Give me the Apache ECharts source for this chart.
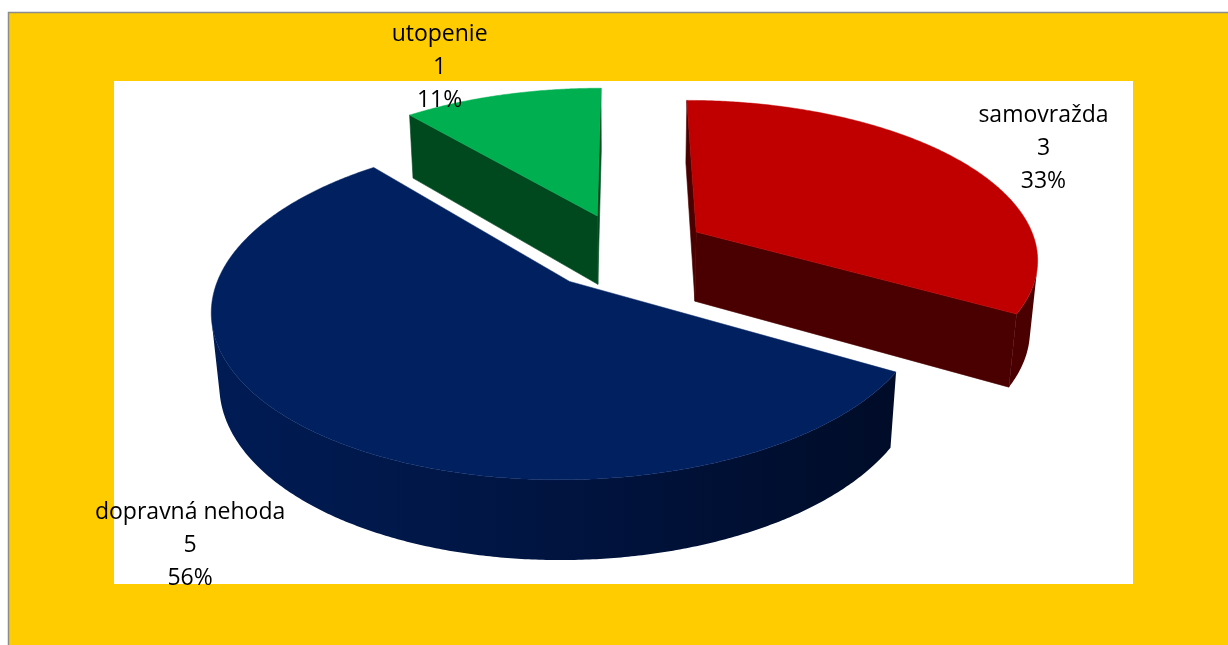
<!DOCTYPE html>
<html><head><meta charset="utf-8">
<script src="https://cdn.jsdelivr.net/npm/echarts@6/dist/echarts.min.js"></script>
<style>html,body{margin:0;padding:0;background:#fff;}#c{width:1228px;height:645px;}</style>
</head><body><div id="c"></div>
<script>
// ---- data ----
const categories = ['samovražda', 'dopravná nehoda', 'utopenie'];
const counts = [3, 5, 1];

// ---- styles / layout ----
const topColors = ['#C00000', '#002060', '#00B050'];
const sideColors = [
  ['#4B0000', '#4B0000', '#4B0000'],
  ['#001C55', '#001440', '#000C28'],
  ['#00491F', '#00491F', '#00491F']
];
const depthOrder = [1, 2, 0];           // painter order: green back, red, blue front
const labelOffsets = [[82, -13], [-114, 118], [-62, -28]];
const VIEW = { cx: 625, cy: 251, F: 1970, d: 5.76, alpha: 27.4 * Math.PI / 180, h: 0.235, explode: 0.245 };

const total = counts.reduce((a, b) => a + b, 0);

function renderItem(params, api) {
  const i = params.dataIndex;
  let before = 0;
  for (let k = 0; k < i; k++) before += counts[k];
  const v = api.value(0);
  const a0 = before / total * 2 * Math.PI, a1 = (before + v) / total * 2 * Math.PI;
  const am = (a0 + a1) / 2;
  const ox = VIEW.explode * Math.sin(am), oz = -VIEW.explode * Math.cos(am);
  const sa = Math.sin(VIEW.alpha), ca = Math.cos(VIEW.alpha);
  const camZ = VIEW.d * ca;
  const h = VIEW.h;
  function P(X, Z, Y) {
    const den = VIEW.d - Y * sa - Z * ca;
    return [VIEW.cx + VIEW.F * X / den, VIEW.cy + VIEW.F * (Z * sa - Y * ca) / den];
  }
  function rim(t, Y) { return P(ox + Math.sin(t), oz - Math.cos(t), Y); }
  function vis(nx, nz, X, Z) { return nx * (0 - X) + nz * (camZ - Z) > 0; }

  const base = depthOrder[i] * 10;
  const sc = sideColors[i];
  const children = [];
  const step = Math.PI / 360;
  const n = Math.max(2, Math.ceil((a1 - a0) / step) + 1);
  const ts = [];
  for (let k = 0; k < n; k++) ts.push(a0 + (a1 - a0) * k / (n - 1));

  // radial faces
  const faces = [[a0, a0 - Math.PI / 2], [a1, a1 + Math.PI / 2]];
  faces.forEach(([t, phi]) => {
    if (vis(Math.sin(phi), -Math.cos(phi), ox, oz)) {
      children.push({
        type: 'polygon', z2: base + 1,
        shape: { points: [P(ox, oz, 0), rim(t, 0), rim(t, -h), P(ox, oz, -h)] },
        style: { fill: sc[1], stroke: sc[1], lineWidth: 0.6 }
      });
    }
  });

  // outer wall (visible runs)
  let run = [];
  const runs = [];
  ts.forEach(t => {
    const X = ox + Math.sin(t), Z = oz - Math.cos(t);
    if (vis(Math.sin(t), -Math.cos(t), X, Z)) run.push(t);
    else { if (run.length > 1) runs.push(run); run = []; }
  });
  if (run.length > 1) runs.push(run);
  runs.forEach(r => {
    const pts = r.map(t => rim(t, 0)).concat(r.slice().reverse().map(t => rim(t, -h)));
    children.push({
      type: 'polygon', z2: base + 2,
      shape: { points: pts },
      style: {
        fill: { type: 'linear', x: 0, y: 0, x2: 1, y2: 0,
          colorStops: [{ offset: 0, color: sc[0] }, { offset: 0.5, color: sc[1] }, { offset: 1, color: sc[2] }] },
        stroke: null
      }
    });
  });

  // top face
  const topPts = [P(ox, oz, 0)].concat(ts.map(t => rim(t, 0)));
  children.push({
    type: 'polygon', z2: base + 5,
    shape: { points: topPts },
    style: { fill: topColors[i], stroke: topColors[i], lineWidth: 0.5 }
  });

  // label
  const anchor = rim(am, 0);
  const pct = Math.round(v / total * 100) + '%';
  children.push({
    type: 'text', z2: 100,
    style: {
      text: categories[i] + '\n' + v + '\n' + pct,
      x: anchor[0] + labelOffsets[i][0], y: anchor[1] + labelOffsets[i][1],
      align: 'center', verticalAlign: 'middle',
      fontFamily: 'Open Sans', fontSize: 23, lineHeight: 33, fill: '#000'
    }
  });
  return { type: 'group', children };
}

const chart = echarts.init(document.getElementById('c'), null, { renderer: 'canvas' });
chart.setOption({
  animation: false,
  backgroundColor: '#FFFFFF',
  graphic: [
    { type: 'rect', z: -10, silent: true, shape: { x: 8.5, y: 12.5, width: 1240, height: 650 },
      style: { fill: '#FFCC00', stroke: '#8C8C8C', lineWidth: 1.5 } },
    { type: 'rect', z: -9, silent: true, shape: { x: 114, y: 81, width: 1019, height: 503 },
      style: { fill: '#FFFFFF' } }
  ],
  series: [{
    type: 'custom',
    coordinateSystem: 'none',
    silent: true,
    renderItem: renderItem,
    data: counts.map((c, i) => ({ name: categories[i], value: [c] }))
  }]
});
</script></body></html>
